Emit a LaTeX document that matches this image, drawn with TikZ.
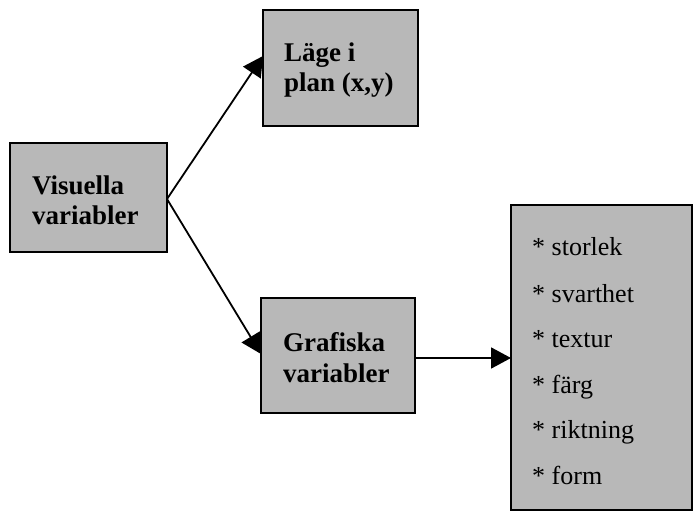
\documentclass[tikz,border=0pt]{standalone}
\usepackage{fontspec}
\setmainfont{Liberation Serif}
\usetikzlibrary{arrows.meta}
\tikzset{
  box/.style={draw=black, line width=2pt, fill=black!28, inner sep=0pt},
  label/.style={anchor=base west, inner sep=0pt, font=\fontsize{27}{30}\selectfont\bfseries},
  item/.style={anchor=base west, inner sep=0pt, font=\fontsize{26}{30}\selectfont},
  link/.style={line width=1.8pt, -{Triangle[length=20pt,width=21pt]}}
}
\begin{document}
\begin{tikzpicture}[x=1pt,y=-1pt]
\useasboundingbox (0,0) rectangle (694,513);
% boxes
\draw[box] (10,143) rectangle (167,252);
\coordinate (vis) at (167,199);
\draw[box] (263,10) rectangle (418,126);
\coordinate (lage) at (263,56);
\draw[box] (261,298) rectangle (415,413);
\coordinate (grafin) at (261,354);
\coordinate (grafout) at (415,358);
\draw[box] (511,205) rectangle (692,510);
\coordinate (list) at (511,358);
% texts
\node[label] (t1) at (32,195) {Visuella};
\node[label] (t2) at (32,225) {variabler};
\node[label] (t3) at (284,62) {Läge i};
\node[label] (t4) at (284,92) {plan (x,y)};
\node[label] (t5) at (283,352) {Grafiska};
\node[label] (t6) at (283,382) {variabler};
\node[item] (i1) at (532,256) {* storlek};
\node[item] (i2) at (532,302) {* svarthet};
\node[item] (i3) at (532,347) {* textur};
\node[item] (i4) at (532,393) {* färg};
\node[item] (i5) at (532,438) {* riktning};
\node[item] (i6) at (532,484) {* form};
% connectors
\draw[link] (vis) -- (lage);
\draw[link] (vis) -- (grafin);
\draw[link] (grafout) -- (list);
\end{tikzpicture}
\end{document}
